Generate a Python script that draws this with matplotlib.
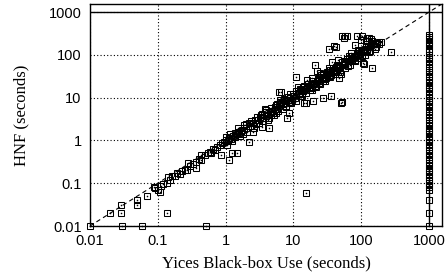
import numpy as np
import matplotlib
matplotlib.use("Agg")
import matplotlib.pyplot as plt

# timeout value (both tools capped at 1000 s)
TIMEOUT = 1000

# solved instances: Yices black-box time vs HNF time (seconds)
yices_time = [
    0.01, 0.02, 0.029, 0.029, 0.049, 0.049, 0.069, 0.087, 0.092, 0.1, 0.107, 0.11, 0.12, 0.136,
    0.14, 0.15, 0.165, 0.18, 0.19, 0.21, 0.23, 0.25, 0.27, 0.28, 0.3, 0.33, 0.37, 0.37, 0.4,
    0.44, 0.44, 0.5, 0.55, 0.58, 0.62, 0.66, 0.7, 0.75, 0.82, 0.87, 0.9, 0.95, 1.0, 1.03, 1.1,
    1.14, 1.14, 1.2, 1.23, 1.3, 1.36, 1.45, 1.45, 1.5, 1.6, 1.7, 1.77, 1.8, 1.9, 2.0, 2.2, 2.2,
    2.3, 2.5, 2.5, 2.7, 2.8, 3.0, 3.2, 3.4, 3.5, 3.7, 4.0, 4.0, 4.2, 4.4, 4.5, 4.8, 5.0, 5.3,
    5.5, 5.8, 6.2, 6.2, 6.6, 6.6, 7.0, 7.5, 7.9, 8.2, 8.7, 8.7, 8.0, 9.0, 9.5, 10, 10.5, 11,
    11, 11.5, 12, 12.5, 13, 13.6, 14, 14.5, 15, 15.5, 16, 16, 17, 17.5, 18, 19, 19.2, 20, 20.6,
    21, 22, 22.6, 23, 24, 25.5, 26, 27, 28, 29, 30, 31, 33, 33, 34, 36, 36, 37.5, 38, 40, 40,
    42, 43, 44, 46, 47, 48, 50, 50, 52, 52, 53, 55, 56, 58, 58, 61, 61, 63, 66, 70, 70, 72, 75,
    78, 82, 82, 85, 88, 92, 95, 98, 100, 102, 107, 108, 110, 115, 118, 120, 122, 125, 130, 135,
    140, 145, 150, 160, 170, 180, 195, 277,
    1.05, 1.15, 1.25, 1.4, 1.55, 1.65, 1.85, 2.1, 2.4, 2.6, 2.9, 3.1, 3.3, 3.6, 3.9, 4.3, 4.7,
    5.1, 5.6, 6.0, 6.4, 6.9, 7.3, 7.8, 8.4, 9.2, 9.8, 10.8, 11.5, 12.5, 13.5, 14.5, 15.5, 16.5,
    18.5, 19.5, 21.5, 23.5, 25, 27, 29, 32, 35, 38, 41, 44, 48, 52, 57, 62, 68, 74, 80, 87, 95,
    105, 115, 125, 135, 150, 165, 180,
    0.03, 0.058, 0.52, 0.136, 15.5,
    2.0, 2.6, 3.4, 4.6, 5.8, 7.2, 9.0, 11, 13.5, 16, 19, 23, 27, 31, 36, 42, 48, 55, 63, 72,
    82, 92, 104, 118, 130, 145, 160, 45, 65, 90, 140, 25, 34, 8.8, 6.3, 3.8,
]
hnf_time = [
    0.01, 0.02, 0.02, 0.031, 0.04, 0.031, 0.05, 0.082, 0.079, 0.07, 0.063, 0.085, 0.095, 0.1,
    0.14, 0.12, 0.15, 0.15, 0.17, 0.16, 0.19, 0.2, 0.2, 0.3, 0.25, 0.28, 0.32, 0.23, 0.36,
    0.35, 0.46, 0.45, 0.5, 0.54, 0.51, 0.62, 0.6, 0.7, 0.79, 0.46, 0.85, 0.9, 1.05, 1.2, 0.95,
    0.35, 1.15, 1.1, 0.51, 1.3, 1.5, 0.51, 1.4, 1.6, 1.5, 1.7, 1.8, 1.4, 2.0, 1.9, 2.6, 0.92,
    2.2, 1.6, 2.5, 3.0, 2.4, 3.0, 3.5, 2.1, 3.3, 4.0, 5.2, 3.8, 3.0, 2.0, 4.6, 5.0, 4.4, 6.0,
    4.4, 5.5, 13.2, 6.5, 13.7, 7.6, 7.0, 8.5, 6.1, 9.0, 4.4, 8.0, 3.4, 10.0, 9.0, 11, 10, 30,
    12, 18, 13, 11, 15, 18, 14, 7.6, 16, 7.6, 26, 17, 18, 15, 20, 29, 8.5, 22, 58,
    19, 24, 41, 26, 22, 34, 28, 9.6, 30, 27, 29, 35, 50, 140, 32, 11, 38, 68, 42, 160, 45,
    150, 40, 55, 50, 29, 52, 35, 7.6, 8, 280, 58, 60, 250, 280, 65, 80, 270, 70, 72, 110, 78, 70, 85,
    90, 170, 95, 270, 100, 120, 105, 220, 115, 270, 66, 62, 125, 140, 205, 130, 250, 150, 250, 160,
    170, 48, 175, 185, 190, 200, 204, 118,
    0.8, 1.4, 0.95, 1.2, 1.9, 1.3, 2.3, 1.6, 2.9, 2.0, 3.5, 2.5, 4.0, 2.9, 4.6, 3.4, 5.8,
    3.9, 6.8, 4.8, 8.0, 5.5, 9.5, 6.5, 10.5, 7.5, 12, 8.5, 14, 16, 11, 19, 13, 21,
    15, 25, 18, 30, 21, 35, 24, 40, 30, 48, 35, 58, 40, 68, 48, 82, 58, 95, 70, 110, 85,
    130, 100, 160, 120, 190, 150, 175,
    0.01, 0.01, 0.01, 0.02, 0.06,
    2.4, 2.2, 4.2, 3.9, 7.0, 8.8, 7.4, 14, 12, 19, 17, 27, 24, 40, 33, 52, 44, 70, 56, 92,
    75, 130, 95, 160, 115, 210, 140, 75, 95, 130, 230, 38, 45, 12, 9, 5.5,
]

# instances where Yices timed out (plotted at x = 1000)
timeout_hnf = [
    0.01, 0.02, 0.04, 0.07, 0.08, 0.09, 0.1, 0.11, 0.12, 0.14, 0.16, 0.18, 0.2, 0.23, 0.26,
    0.3, 0.35, 0.4, 0.45, 0.5, 0.6, 0.7, 0.8, 0.9, 1, 1.1, 1.2, 1.4, 1.6, 1.8, 2, 2.3, 2.6,
    3, 3.5, 4, 4.5, 5, 6, 7, 8, 9, 10, 12, 14, 16, 18, 20, 23, 26, 30, 35, 40, 45, 50, 60,
    70, 80, 90, 100, 120, 140, 160, 180, 200, 230, 260, 290,
]

x_ticks = [0.01, 0.1, 1, 10, 100, 1000]
x_labels = ["0.01", "0.1", "1", "10", "100", "1000"]
y_ticks = [0.01, 0.1, 1, 10, 100, 1000]
y_labels = ["0.01", "0.1", "1", "10", "100", "1000"]

fig = plt.figure(figsize=(4.47, 2.76), dpi=100)
ax = fig.add_axes([0.201, 0.181, 0.788, 0.805])

lim = 1550
ax.plot([0.01, lim], [0.01, lim], color="black", lw=0.8, dashes=(4, 3), zorder=2)
ax.axhline(TIMEOUT, color="black", lw=1.0, zorder=2)
ax.axvline(TIMEOUT, color="black", lw=1.0, zorder=2)

all_x = yices_time + [TIMEOUT] * len(timeout_hnf)
all_y = hnf_time + timeout_hnf
ax.plot(all_x, all_y, linestyle="none", marker="s", ms=4.8, mfc="none",
        mec="black", mew=0.75, zorder=3, clip_on=False)
ax.plot(all_x, all_y, linestyle="none", marker="s", ms=0.8, mfc="black",
        mec="black", mew=0.2, zorder=3, clip_on=False)

ax.set_xscale("log")
ax.set_yscale("log")
ax.set_xlim(0.01, lim)
ax.set_ylim(0.01, lim)
ax.set_xticks(x_ticks)
ax.set_xticklabels(x_labels)
ax.set_yticks(y_ticks)
ax.set_yticklabels(y_labels)
ax.minorticks_off()
ax.tick_params(direction="in", length=0, labelsize=10.5, pad=6)
for lab in ax.get_xticklabels() + ax.get_yticklabels():
    lab.set_fontfamily("Liberation Sans")

ax.grid(True, color="black", linestyle=(0, (1, 2)), lw=0.8)
for sp in ax.spines.values():
    sp.set_linewidth(1.0)

ax.set_xlabel("Yices Black-box Use (seconds)", fontfamily="Liberation Serif",
              fontsize=12, labelpad=5)
ax.set_ylabel("HNF (seconds)", fontfamily="Liberation Serif", fontsize=12, labelpad=14)

fig.savefig("out.png", dpi=100)
